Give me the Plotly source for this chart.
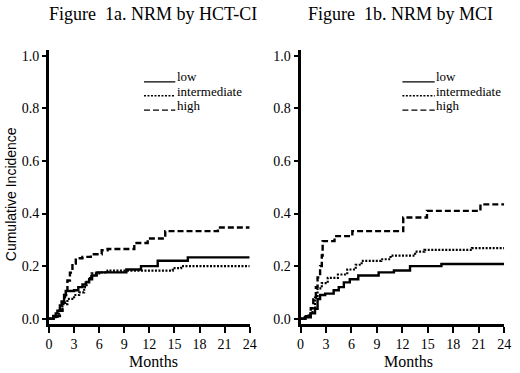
import plotly.graph_objects as go

W, H = 520, 373

# ---------------- data ----------------
panel_titles = ["Figure  1a. NRM by HCT-CI", "Figure  1b. NRM by MCI"]
group_labels = ["low", "intermediate", "high"]
x_title = "Months"
y_title = "Cumulative Incidence"
x_ticks = [0, 3, 6, 9, 12, 15, 18, 21, 24]
y_ticks = [0.0, 0.2, 0.4, 0.6, 0.8, 1.0]

# Figure 1a (HCT-CI)
hct_low_t = [0, 0.5, 0.8, 1.0, 1.3, 1.5, 1.8, 2.0, 3.0, 3.5, 4.0, 4.4, 4.8, 5.15, 5.7, 9.25, 11.0, 13.0, 16.6, 24]
hct_low_v = [0, 0.01, 0.02, 0.03, 0.05, 0.065, 0.09, 0.105, 0.108, 0.12, 0.13, 0.138, 0.15, 0.164, 0.176, 0.187, 0.20, 0.22, 0.233, 0.233]
hct_int_t = [0, 0.8, 1.2, 1.6, 2.2, 3.0, 3.6, 4.2, 4.5, 4.9, 5.1, 6.0, 7.0, 14.8, 15.8, 24]
hct_int_v = [0, 0.01, 0.03, 0.055, 0.075, 0.09, 0.10, 0.12, 0.145, 0.163, 0.172, 0.176, 0.183, 0.192, 0.20, 0.20]
hct_high_t = [0, 1.0, 1.3, 1.6, 1.9, 2.2, 2.5, 2.8, 3.2, 4.0, 5.0, 6.3, 7.0, 10.2, 11.8, 13.9, 20.2, 24]
hct_high_v = [0, 0.01, 0.03, 0.06, 0.09, 0.145, 0.175, 0.21, 0.23, 0.235, 0.245, 0.26, 0.265, 0.288, 0.305, 0.333, 0.347, 0.347]

# Figure 1b (MCI)
mci_low_t = [0, 0.5, 1.2, 1.7, 2.0, 2.3, 2.9, 3.9, 4.5, 5.1, 5.8, 6.8, 9.2, 11.0, 12.9, 16.6, 24]
mci_low_v = [0, 0.005, 0.02, 0.037, 0.075, 0.09, 0.095, 0.108, 0.12, 0.138, 0.15, 0.164, 0.176, 0.183, 0.20, 0.208, 0.208]
mci_int_t = [0, 0.6, 1.0, 1.4, 1.7, 2.0, 2.5, 3.2, 4.4, 5.5, 6.5, 7.2, 9.5, 10.6, 13.5, 14.6, 20.2, 24]
mci_int_v = [0, 0.01, 0.02, 0.04, 0.08, 0.115, 0.135, 0.155, 0.168, 0.187, 0.205, 0.22, 0.226, 0.24, 0.255, 0.262, 0.268, 0.268]
mci_high_t = [0, 0.9, 1.2, 1.5, 1.8, 2.0, 2.3, 2.5, 2.6, 4.0, 6.1, 12.1, 14.9, 21.2, 24]
mci_high_v = [0, 0.01, 0.04, 0.08, 0.12, 0.157, 0.20, 0.24, 0.295, 0.314, 0.333, 0.385, 0.41, 0.435, 0.435]

# ---------------- styles ----------------
dashes = ["solid", "2px,1.5px", "6px,3px"]
widths = [2.4, 2.2, 2.4]
SERIF = "Liberation Serif"
SANS = "Liberation Sans"

fig = go.Figure()

panels = [
    ("x", "y", [(hct_low_t, hct_low_v), (hct_int_t, hct_int_v), (hct_high_t, hct_high_v)]),
    ("x2", "y2", [(mci_low_t, mci_low_v), (mci_int_t, mci_int_v), (mci_high_t, mci_high_v)]),
]
for xa, ya, series in panels:
    for i, (t, v) in enumerate(series):
        fig.add_trace(go.Scatter(
            x=t, y=v, mode="lines", line_shape="hv", xaxis=xa, yaxis=ya,
            line=dict(color="black", width=widths[i], dash=dashes[i]),
            name=group_labels[i], showlegend=False, hoverinfo="skip"))

def px(xp):
    return xp / W

def py(yp):
    return 1 - yp / H

x_doms = [[px(46), px(251)], [px(303), px(511)]]
y_dom = [py(326), py(49)]
y_range = [-0.019, 1.021]

axis_common = dict(showgrid=False, zeroline=False, showline=True, linecolor="black",
                   linewidth=3, ticks="outside", tickcolor="black", tickwidth=2,
                   tickfont=dict(family=SERIF, size=14, color="black"))

for k in range(2):
    sfx = "" if k == 0 else "2"
    fig.update_layout(**{
        "xaxis" + sfx: dict(axis_common, domain=x_doms[k], range=[0, 24], tickvals=x_ticks,
                            ticklen=6, anchor="y" + sfx),
        "yaxis" + sfx: dict(axis_common, domain=y_dom, range=y_range, tickvals=y_ticks,
                            tickformat=".1f", ticklen=4, anchor="x" + sfx),
    })

annotations = []
# panel titles
title_centers = [152, 405]
month_centers = [153, 413]
for k in range(2):
    annotations.append(dict(text=panel_titles[k], x=px(title_centers[k]), y=py(12), xref="paper",
                            yref="paper", showarrow=False, xanchor="center", yanchor="middle",
                            font=dict(family=SERIF, size=18, color="black")))
    annotations.append(dict(text=x_title, x=px(month_centers[k]), y=py(364), xref="paper",
                            yref="paper", showarrow=False, xanchor="center", yanchor="middle",
                            font=dict(family=SERIF, size=16, color="black")))
# y title
annotations.append(dict(text=y_title, x=px(8), y=py(195), xref="paper", yref="paper",
                        showarrow=False, textangle=-90, xanchor="center", yanchor="middle",
                        font=dict(family=SANS, size=14, color="black")))

# legends (in-plot key)
shapes = []
leg_line_x = [(143, 175), (407, 440)]
leg_text_x = [176, 440]
leg_line_y = [81, 95, 109.5]
leg_text_y = [76, 90.5, 105]
for k in range(2):
    for i in range(3):
        shapes.append(dict(type="line", xref="paper", yref="paper",
                           x0=px(leg_line_x[k][0]), x1=px(leg_line_x[k][1]),
                           y0=py(leg_line_y[i]), y1=py(leg_line_y[i]),
                           line=dict(color="black", width=1.3, dash=dashes[i])))
        annotations.append(dict(text=group_labels[i], x=px(leg_text_x[k]), y=py(leg_text_y[i]),
                                xref="paper", yref="paper", showarrow=False, xanchor="left",
                                yanchor="middle", borderpad=0,
                                font=dict(family=SERIF, size=13, color="black")))

fig.update_layout(width=W, height=H, margin=dict(l=0, r=0, t=0, b=0),
                  paper_bgcolor="white", plot_bgcolor="white",
                  font=dict(family=SERIF, color="black"),
                  annotations=annotations, shapes=shapes, showlegend=False)

fig.write_html("out.html", config={"displayModeBar": False},
               post_script="document.body.style.margin='0px';")
